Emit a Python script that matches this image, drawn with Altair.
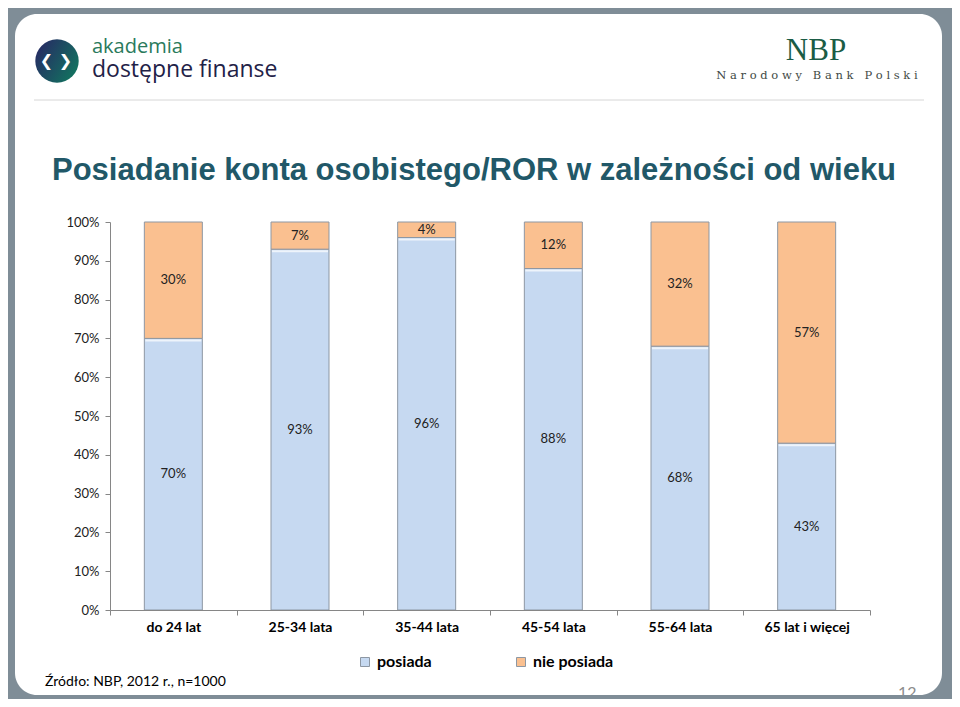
import altair as alt
import pandas as pd

# ---- data ----
ages = ["do 24 lat", "25-34 lata", "35-44 lata", "45-54 lata", "55-64 lata", "65 lat i więcej"]
posiada = [70, 93, 96, 88, 68, 43]
nie_posiada = [30, 7, 4, 12, 32, 57]
series = ["posiada", "nie posiada"]
series_colors = ["#c6d9f1", "#fac090"]
y_ticks = [0, 10, 20, 30, 40, 50, 60, 70, 80, 90, 100]

title_text = "Posiadanie konta osobistego/ROR w zależności od wieku"
source_text = "Źródło: NBP, 2012 r., n=1000"

rows = []
for i, a in enumerate(ages):
    for k, (s, vals) in enumerate(zip(series, [posiada, nie_posiada])):
        rows.append({"age": a, "series": s, "value": vals[i], "ord": k})
df = pd.DataFrame(rows)

one = pd.DataFrame({"d": [0]})
FONT = "Lato"
NB = "\u00a0"

base = alt.Chart(df).transform_stack(
    stack="value", groupby=["age"], as_=["v0", "v1"], sort=[alt.SortField("ord")]
).transform_calculate(
    mid="(datum.v0 + datum.v1) / 2", label="datum.value + '%'"
)

x_axis = alt.Axis(labelAngle=0, labelFontWeight="bold", labelFontSize=14, labelColor="#000000",
                  labelPadding=5, tickSize=5, tickBand="extent", domainColor="#868686",
                  tickColor="#868686", labelLimit=200, labelFont=FONT, zindex=1, title=None)
x_scale = alt.Scale(paddingInner=0, paddingOuter=0)
y_axis = alt.Axis(values=y_ticks, labelExpr="datum.value + '%'", grid=False,
                  labelOverlap=False, tickSize=5, labelPadding=6, labelFontSize=13,
                  labelColor="#222222", domainColor="#868686", tickColor="#868686",
                  labelFont=FONT, zindex=1, title=None)
y_scale = alt.Scale(domain=[0, 100], nice=False)


def X():
    return alt.X("age:N", sort=ages, scale=x_scale, axis=x_axis)


bars = base.mark_bar(size=58, stroke="#8d97a3", strokeWidth=1).encode(
    x=X(),
    y=alt.Y("v0:Q", scale=y_scale, axis=y_axis),
    y2="v1:Q",
    color=alt.Color("series:N", scale=alt.Scale(domain=series, range=series_colors),
                    legend=alt.Legend(title=None, orient="none", direction="horizontal",
                                      legendX=247, legendY=432, padding=0,
                                      symbolType="square", symbolSize=81,
                                      symbolStrokeColor="#8d97a3", symbolStrokeWidth=1,
                                      labelFontSize=16, labelFontWeight="bold", labelFont=FONT,
                                      labelColor="#000000", labelOffset=4, columnPadding=81)),
    order=alt.Order("ord:Q"),
)

highlight = base.transform_filter("datum.ord == 0").mark_tick(
    color="white", thickness=2, size=56, yOffset=2
).encode(x=X(), y=alt.Y("v1:Q", scale=y_scale, axis=y_axis))

labels = base.mark_text(font=FONT, fontSize=13, color="#222222", baseline="middle").encode(
    x=X(), y=alt.Y("mid:Q", scale=y_scale, axis=y_axis), text="label:N"
)

# ---- slide decorations (plot-area coordinates: origin at page 110,222) ----
card = alt.Chart(one).mark_rect(color="white", cornerRadius=22).encode(
    x=alt.value(-95), x2=alt.value(832), y=alt.value(-208), y2=alt.value(473)
)
sep = alt.Chart(one).mark_rule(color="#d6d6d6", strokeWidth=1).encode(
    x=alt.value(-76), x2=alt.value(814), y=alt.value(-122)
)
grad = alt.LinearGradient(gradient="linear",
                          stops=[alt.GradientStop(offset=0, color="#272a64"),
                                 alt.GradientStop(offset=1, color="#11765f")],
                          x1=0, x2=1, y1=0.2, y2=0.8)
logo_circle = alt.Chart(one).mark_point(shape="circle", filled=True, size=1885, opacity=1,
                                        color=grad, strokeWidth=0).encode(
    x=alt.value(-53), y=alt.value(-161)
)
logo_chev = alt.Chart(one).mark_text(text="❮ ❯", font="DejaVu Sans", fontWeight="bold",
                                      fontSize=16, color="white", align="center",
                                      baseline="middle").encode(
    x=alt.value(-54), y=alt.value(-161)
)
akad = alt.Chart(one).mark_text(text="akademia", font="Open Sans", fontSize=20,
                                 color="#2a7a5c", align="left", baseline="alphabetic").encode(
    x=alt.value(-18), y=alt.value(-169)
)
dost = alt.Chart(one).mark_text(text="dostępne finanse", font="Open Sans", fontSize=23,
                                 color="#1f2247", align="left", baseline="alphabetic").encode(
    x=alt.value(-18), y=alt.value(-145)
)
nbp = alt.Chart(one).mark_text(text="NBP", font="Liberation Serif", fontSize=31,
                                color="#1b5c45", align="center", baseline="alphabetic").encode(
    x=alt.value(706), y=alt.value(-162)
)
sub_words = ["Narodowy", "Bank", "Polski"]
sub_text = (NB * 3).join(NB.join(list(w)) for w in sub_words)
nbp_sub = alt.Chart(one).mark_text(text=sub_text,
                                    font="DejaVu Serif", fontSize=11.5, color="#3f4a45",
                                    align="center", baseline="alphabetic").encode(
    x=alt.value(707), y=alt.value(-143)
)
title = alt.Chart(one).mark_text(text=title_text, font="Liberation Sans", fontWeight="bold",
                                  fontSize=31, color="#215868", align="left",
                                  baseline="alphabetic").encode(
    x=alt.value(-58), y=alt.value(-42)
)
source = alt.Chart(one).mark_text(text=source_text, font=FONT, fontSize=14, color="#000000",
                                   align="left", baseline="alphabetic").encode(
    x=alt.value(-65), y=alt.value(464)
)
page_no = alt.Chart(one).mark_text(text="12", font=FONT, fontSize=16, color="#8c8c8c",
                                    align="left", baseline="alphabetic").encode(
    x=alt.value(788), y=alt.value(476)
)
cover = alt.Chart(one).mark_rect(color="#7f8d97").encode(
    x=alt.value(-110), x2=alt.value(834), y=alt.value(473), y2=alt.value(480)
)

chart = alt.layer(
    card, sep, logo_circle, logo_chev, akad, dost, nbp, nbp_sub, title, source,
    bars, highlight, labels, page_no, cover
).properties(
    width=760, height=388,
    autosize=alt.AutoSizeParams(type="none"),
    padding={"left": 102, "top": 214, "right": 82, "bottom": 89},
    background="#7f8d97",
).configure_view(strokeWidth=0).configure(font=FONT)

chart.save("out.html", embed_options={"renderer": "svg", "actions": False})
